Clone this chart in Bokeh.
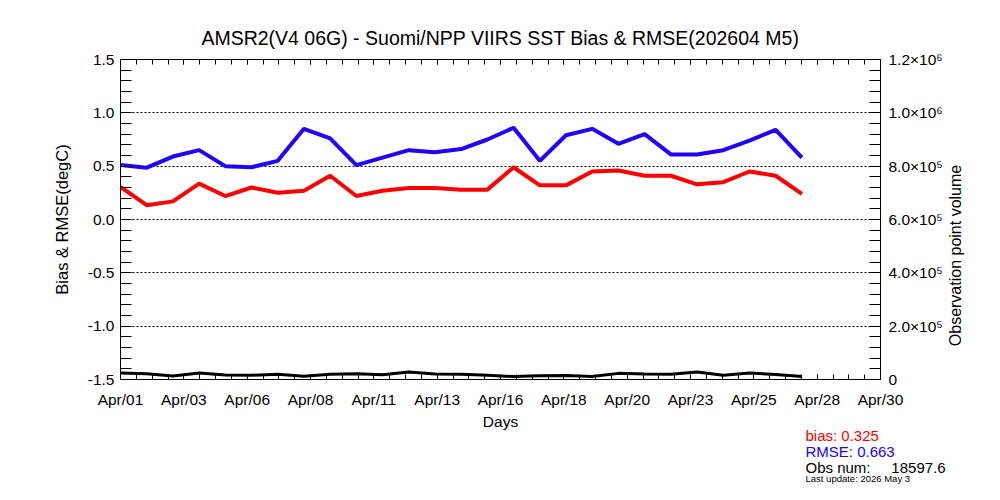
import math
import numpy as np
from bokeh.plotting import figure
from bokeh.models import (Range1d, LinearAxis, FixedTicker, CustomJSTickFormatter, Label)
from bokeh.embed import file_html
from bokeh.resources import INLINE

# ---------------- data ----------------
days = list(range(1, 28))  # Apr 01 .. Apr 27
bias = [0.305, 0.134, 0.17, 0.336, 0.22, 0.30, 0.25, 0.27, 0.41, 0.22, 0.27, 0.295,
        0.295, 0.28, 0.28, 0.49, 0.32, 0.32, 0.45, 0.46, 0.41, 0.41, 0.33, 0.35,
        0.45, 0.41, 0.24]
rmse = [0.51, 0.486, 0.59, 0.65, 0.50, 0.49, 0.55, 0.85, 0.76, 0.51, 0.58, 0.65,
        0.63, 0.66, 0.75, 0.86, 0.55, 0.79, 0.85, 0.71, 0.80, 0.61, 0.61, 0.65,
        0.74, 0.84, 0.58]
obs = [24000, 22000, 13000, 24000, 17000, 16000, 20000, 12000, 20000, 22000, 18000,
       28000, 21000, 20000, 16000, 11000, 14000, 15000, 11000, 23000, 21000, 20000,
       28000, 16000, 24000, 19000, 11000]

x_tick_labels = ["Apr/01", "Apr/03", "Apr/06", "Apr/08", "Apr/11", "Apr/13", "Apr/16",
                 "Apr/18", "Apr/20", "Apr/23", "Apr/25", "Apr/28", "Apr/30"]
left_ticks = [-1.5, -1.0, -0.5, 0.0, 0.5, 1.0, 1.5]
grid_ticks = [-1.0, -0.5, 0.0, 0.5, 1.0]
right_ticks = [0, 200000, 400000, 600000, 800000, 1000000, 1200000]
right_tick_labels = ["0", "2.0\u00d710\u2075", "4.0\u00d710\u2075", "6.0\u00d710\u2075",
                     "8.0\u00d710\u2075", "1.0\u00d710\u2076", "1.2\u00d710\u2076"]

title_text = "AMSR2(V4 06G) - Suomi/NPP VIIRS SST Bias & RMSE(202604 M5)"
bias_mean = "0.325"
rmse_mean = "0.663"
obs_mean = "18597.6"
last_update = "Last update: 2026 May  3"

FONT = "Liberation Sans"
X0, X1 = 1, 30

# ---------------- figure ----------------
p = figure(width=984, height=484, x_range=Range1d(X0, X1),
           y_range=Range1d(left_ticks[0], left_ticks[-1]),
           output_backend="svg", toolbar_location=None,
           min_border_left=120, min_border_right=104,
           min_border_top=59, min_border_bottom=105,
           title=title_text)
p.extra_y_ranges = {"obs": Range1d(right_ticks[0], right_ticks[-1])}
p.background_fill_color = "white"
p.border_fill_color = "white"
p.outline_line_color = "black"

p.title.text_font = FONT
p.title.text_font_size = "19.5px"
p.title.text_font_style = "normal"
p.title.text_color = "black"
p.title.align = "center"
p.title.standoff = 0

xt = list(np.linspace(X0, X1, len(x_tick_labels)))
xminor = list(np.linspace(X0, X1, (len(x_tick_labels) - 1) * 4 + 1))
x_ticker = FixedTicker(ticks=xt, minor_ticks=xminor)
x_fmt = CustomJSTickFormatter(args=dict(labels=x_tick_labels, x0=X0, x1=X1),
                              code="const n = labels.length - 1; return labels[Math.round((tick - x0) * n / (x1 - x0))];")

def style_axis(ax, tick_len):
    ax.axis_line_color = "black"
    ax.major_tick_line_color = "black"
    ax.minor_tick_line_color = "black"
    ax.major_tick_in = tick_len
    ax.major_tick_out = 0
    ax.minor_tick_in = tick_len
    ax.minor_tick_out = 0
    ax.major_label_text_font = FONT
    ax.major_label_text_font_size = "15.5px"
    ax.major_label_text_color = "black"
    ax.axis_label_text_font = FONT
    ax.axis_label_text_font_style = "normal"
    ax.axis_label_text_color = "black"

# bottom axis
xa = p.xaxis[0]
xa.ticker = x_ticker
xa.formatter = x_fmt
style_axis(xa, 5)
xa.major_label_standoff = 11
xa.axis_label = "Days"
xa.axis_label_text_font_size = "15.5px"
xa.axis_label_standoff = 2

# top axis (ticks only)
ta = LinearAxis(ticker=x_ticker, formatter=CustomJSTickFormatter(code="return '';"))
style_axis(ta, 5)
ta.major_label_text_font_size = "0px"
ta.major_label_standoff = 0
p.add_layout(ta, "above")

# left axis
ya = p.yaxis[0]
ya.ticker = FixedTicker(ticks=left_ticks,
                        minor_ticks=list(np.round(np.linspace(left_ticks[0], left_ticks[-1], 31), 2)))
ya.formatter = CustomJSTickFormatter(code="return tick.toFixed(1);")
style_axis(ya, 11)
ya.major_label_standoff = 6
ya.axis_label = "Bias & RMSE(degC)"
ya.axis_label_text_font_size = "16.5px"
ya.axis_label_standoff = 14

# right axis
ra = LinearAxis(y_range_name="obs",
                ticker=FixedTicker(ticks=right_ticks,
                                   minor_ticks=list(np.linspace(right_ticks[0], right_ticks[-1], 31))),
                formatter=CustomJSTickFormatter(args=dict(labels=right_tick_labels, step=right_ticks[1]),
                                                code="return labels[Math.round(tick / step)];"))
style_axis(ra, 11)
ra.major_label_standoff = 8
p.add_layout(ra, "right")

# right axis title, reading bottom-to-top, in its own side panel
p.add_layout(Label(x=10, y=124, x_units="screen", y_units="screen",
                   text="Observation point volume", angle=math.pi / 2,
                   text_font=FONT, text_font_size="16px", text_color="black",
                   text_align="center", text_baseline="middle"), "right")

# grid
p.xgrid.visible = False
p.ygrid[0].ticker = FixedTicker(ticks=grid_ticks)
p.ygrid.grid_line_color = "black"
p.ygrid.grid_line_dash = "2 2"
p.ygrid.grid_line_width = 1

# lines
p.line(days, obs, line_color="black", line_width=3, y_range_name="obs")
p.line(days, rmse, line_color="#2000ff", line_width=4)
p.line(days, bias, line_color="#ff0000", line_width=4)

# stats text, each in a side-panel row below the x axis
SX = 685
stats_below = [
    ("bias: " + bias_mean, "#ff0000", 14.2, "15px"),
    ("RMSE: " + rmse_mean, "#2000ff", 15.2, "15px"),
    ("Obs num:\u00a0\u00a0\u00a0\u00a0\u00a0" + obs_mean, "black", 16.2, "15px"),
]
for txt, col, yy, fs in stats_below:
    p.add_layout(Label(x=SX, y=yy, x_units="screen", y_units="screen", text=txt,
                       text_color=col, text_font=FONT,
                       text_font_size=fs, text_baseline="middle", text_align="left"), "below")

p.add_layout(Label(x=SX, y=-419, x_units="screen", y_units="screen", text=last_update,
                   text_color="black", text_font=FONT, text_font_size="9.5px",
                   text_baseline="middle", text_align="left"), "above")

open("out.html", "w").write(file_html(p, INLINE))
